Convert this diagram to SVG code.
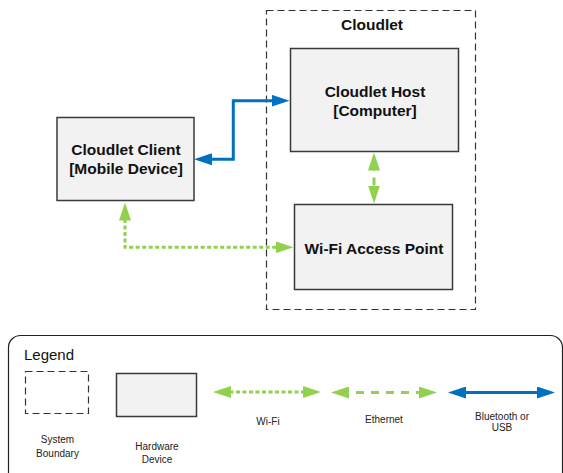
<svg xmlns="http://www.w3.org/2000/svg" width="563" height="473" viewBox="0 0 563 473">
<style>
.bg{fill:#ffffff}
.boundary{fill:none;stroke:#333333;stroke-width:1.2;stroke-dasharray:7 4}
.hw{fill:#f2f2f2;stroke:#3a3a3a;stroke-width:1.5}
.title{font-family:"Liberation Sans",Arial,sans-serif;font-weight:bold;font-size:15.5px;fill:#111111;text-anchor:middle}
.lbl{font-family:"Liberation Sans",Arial,sans-serif;font-size:10px;fill:#222222;text-anchor:middle}
.legendtitle{font-family:"Liberation Sans",Arial,sans-serif;font-size:15px;fill:#111111}
.wifi{fill:none;stroke:#92d050;stroke-width:3;stroke-dasharray:4 2.5;marker-start:url(#ag);marker-end:url(#ag)}
.eth{fill:none;stroke:#92d050;stroke-width:3;stroke-dasharray:8 7;marker-start:url(#ag);marker-end:url(#ag)}
.bt{fill:none;stroke:#0070c0;stroke-width:3;marker-start:url(#ab);marker-end:url(#ab)}
</style>
<defs>
<marker id="ag" markerUnits="userSpaceOnUse" markerWidth="18" markerHeight="12" refX="8" refY="6" orient="auto-start-reverse" viewBox="0 0 18 12">
<path d="M0,0 L18,6 L0,12 z" fill="#92d050"/>
</marker>
<marker id="ab" markerUnits="userSpaceOnUse" markerWidth="18" markerHeight="12" refX="8" refY="6" orient="auto-start-reverse" viewBox="0 0 18 12">
<path d="M0,0 L18,6 L0,12 z" fill="#0070c0"/>
</marker>
</defs>
<rect class="bg" x="0" y="0" width="563" height="473"/>

<g id="cloudlet-boundary">
<rect class="boundary" x="266.5" y="10.5" width="209" height="299"/>
<text class="title" x="372" y="30">Cloudlet</text>
</g>

<g id="cloudlet-host">
<rect class="hw" x="290.5" y="48.5" width="168" height="103"/>
<text class="title" x="375" y="97">Cloudlet Host</text>
<text class="title" x="375" y="115.5">[Computer]</text>
</g>

<g id="wifi-access-point">
<rect class="hw" x="294.5" y="204.5" width="158" height="85"/>
<text class="title" x="374" y="253.5">Wi-Fi Access Point</text>
</g>

<g id="cloudlet-client">
<rect class="hw" x="57" y="117.5" width="137" height="83"/>
<text class="title" x="126" y="155">Cloudlet Client</text>
<text class="title" x="126" y="174">[Mobile Device]</text>
</g>

<g id="connectors">
<path class="bt" d="M204,159.3 H233.3 V100.7 H279.5"/>
<path class="wifi" d="M125,212.5 V247.3 H283.5"/>
<path class="eth" d="M374,162.5 V193.5"/>
</g>

<g id="legend">
<rect x="8.5" y="335.5" width="554" height="150" rx="12" fill="none" stroke="#222222" stroke-width="1.2"/>
<text class="legendtitle" x="24" y="360">Legend</text>
<rect class="boundary" x="25.5" y="371.5" width="63" height="42"/>
<text class="lbl" x="57.5" y="443">System</text>
<text class="lbl" x="57.5" y="457">Boundary</text>
<rect class="hw" x="116.5" y="373.5" width="80" height="43"/>
<text class="lbl" x="157" y="450">Hardware</text>
<text class="lbl" x="157" y="463">Device</text>
<path class="wifi" d="M223,392 H311"/>
<text class="lbl" x="268" y="425">Wi-Fi</text>
<path class="eth" d="M341,392.5 H427"/>
<text class="lbl" x="384" y="422.5">Ethernet</text>
<path class="bt" d="M458,392.5 H545"/>
<text class="lbl" x="502" y="419.5">Bluetooth or</text>
<text class="lbl" x="502" y="431">USB</text>
</g>
</svg>
